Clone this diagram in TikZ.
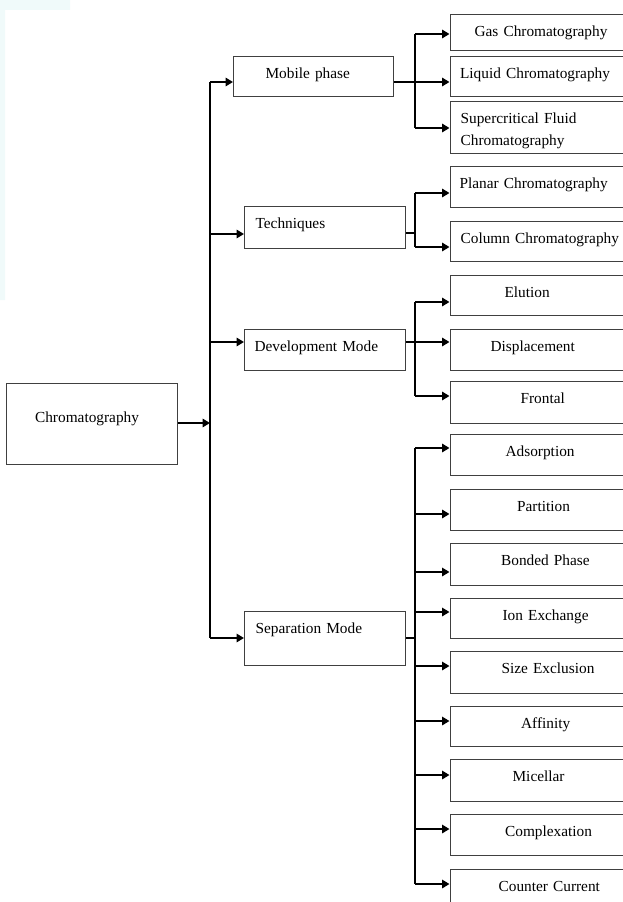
\documentclass[tikz,border=0pt]{standalone}
\usepackage{fontspec}
\setmainfont{Liberation Serif}
\usepackage{xcolor}
\usetikzlibrary{arrows.meta}
\newlength\unitpx
\setlength\unitpx{0.75pt}
\definecolor{boxline}{gray}{0.25}
\definecolor{wash}{RGB}{240,250,250}
\tikzset{
  box/.style={draw=boxline,line width=1.2\unitpx,anchor=north west,inner sep=0pt,
    align=left,text height=21.5\unitpx,font=\fontsize{11.5}{16.5}\selectfont},
  lbox/.style={box,text width=161\unitpx},
  rbox/.style={box,text width=200\unitpx},
  stub/.style={line width=2pt,-{Triangle[length=5.5pt,width=6.2pt]}},
  wire/.style={line width=0.9pt}
}

\begin{document}
\begin{tikzpicture}[x=0.75pt,y=-0.75pt]
\useasboundingbox(0,0)rectangle(622,902);
\fill[wash](0,0)rectangle(70,10) (0,10)rectangle(5,300);
% root and first level
\node[box,text width=171\unitpx,text height=39\unitpx,text depth=42\unitpx](chrom)at(5.5,383){\hspace*{29\unitpx}Chromatography};
\node[box,text width=160\unitpx,text depth=18.5\unitpx](mob)at(233,56){\hspace*{32\unitpx}Mobile phase};
\node[lbox,text depth=20.5\unitpx](tech)at(244,206){\hspace*{11\unitpx}Techniques};
\node[lbox,text depth=19.5\unitpx](dev)at(244,329){\hspace*{10\unitpx}Development Mode};
\node[lbox,text depth=32.5\unitpx](sep)at(244,611){\hspace*{11\unitpx}Separation Mode};
% mobile phase
\node[rbox,text depth=14.5\unitpx](gas)at(449.5,14){\hspace*{24.5\unitpx}Gas Chromatography};
\node[rbox,text depth=18.5\unitpx](liq)at(449.5,56){\hspace*{10\unitpx}Liquid Chromatography};
\node[rbox,text depth=30.5\unitpx](sup)at(449.5,101){\hspace*{10.5\unitpx}Supercritical Fluid\\\hspace*{10.5\unitpx}Chromatography};
% techniques
\node[rbox,text depth=19.5\unitpx](pla)at(449.5,166){\hspace*{9.5\unitpx}Planar Chromatography};
\node[rbox,text depth=18.5\unitpx](col)at(449.5,221){\hspace*{10.5\unitpx}Column Chromatography};
% development mode
\node[rbox,text depth=18.5\unitpx](elu)at(449.5,275){\hspace*{54.5\unitpx}Elution};
\node[rbox,text depth=19.5\unitpx](dis)at(449.5,329){\hspace*{40.5\unitpx}Displacement};
\node[rbox,text depth=20.5\unitpx](fro)at(449.5,381){\hspace*{70.5\unitpx}Frontal};
% separation mode
\node[rbox,text depth=19.5\unitpx](ads)at(449.5,434){\hspace*{55.5\unitpx}Adsorption};
\node[rbox,text depth=19.5\unitpx](par)at(449.5,489){\hspace*{67\unitpx}Partition};
\node[rbox,text depth=20.5\unitpx](bon)at(449.5,543){\hspace*{51\unitpx}Bonded Phase};
\node[rbox,text depth=18.5\unitpx](ion)at(449.5,598){\hspace*{52.5\unitpx}Ion Exchange};
\node[rbox,text depth=20.5\unitpx](siz)at(449.5,651){\hspace*{51.5\unitpx}Size Exclusion};
\node[rbox,text depth=18.5\unitpx](aff)at(449.5,706){\hspace*{71\unitpx}Affinity};
\node[rbox,text depth=20.5\unitpx](mic)at(449.5,759){\hspace*{62.5\unitpx}Micellar};
\node[rbox,text depth=19.5\unitpx](com)at(449.5,814){\hspace*{55\unitpx}Complexation};
\node[rbox,text depth=18.5\unitpx](cou)at(449.5,869){\hspace*{48.5\unitpx}Counter Current};
% trunk
\coordinate(t0)at(210,423);
\coordinate(t1)at(210,82);
\coordinate(t2)at(210,234);
\coordinate(t3)at(210,342);
\coordinate(t4)at(210,638);
\draw[stub](t0-|chrom.east)--(t0);
\draw[wire](t1)--(t4);
\draw[stub](t1)--(t1-|mob.west);
\draw[stub](t2)--(t2-|tech.west);
\draw[stub](t3)--(t3-|dev.west);
\draw[stub](t4)--(t4-|sep.west);
% mobile phase branch
\coordinate(m1)at(415,34);
\coordinate(m2)at(415,82);
\coordinate(m3)at(415,128);
\draw[wire](m1)--(m3);
\draw[stub](m1)--(m1-|gas.west);
\draw[stub](m2-|mob.east)--(m2-|liq.west);
\draw[stub](m3)--(m3-|sup.west);
% techniques branch
\coordinate(p0)at(415,233);
\coordinate(p1)at(415,193);
\coordinate(p2)at(415,247);
\draw[wire](p0-|tech.east)--(p0);
\draw[wire](p1)--(p2);
\draw[stub](p1)--(p1-|pla.west);
\draw[stub](p2)--(p2-|col.west);
% development mode branch
\coordinate(d1)at(415,302);
\coordinate(d2)at(415,342);
\coordinate(d3)at(415,396);
\draw[wire](d1)--(d3);
\draw[stub](d1)--(d1-|elu.west);
\draw[stub](d2-|dev.east)--(d2-|dis.west);
\draw[stub](d3)--(d3-|fro.west);
% separation mode branch
\coordinate(s0)at(415,638);
\coordinate(s1)at(415,448);
\coordinate(s2)at(415,514);
\coordinate(s3)at(415,572);
\coordinate(s4)at(415,612);
\coordinate(s5)at(415,666);
\coordinate(s6)at(415,721);
\coordinate(s7)at(415,775);
\coordinate(s8)at(415,829);
\coordinate(s9)at(415,884);
\draw[wire](s0-|sep.east)--(s0);
\draw[wire](s1)--(s9);
\draw[stub](s1)--(s1-|ads.west);
\draw[stub](s2)--(s2-|par.west);
\draw[stub](s3)--(s3-|bon.west);
\draw[stub](s4)--(s4-|ion.west);
\draw[stub](s5)--(s5-|siz.west);
\draw[stub](s6)--(s6-|aff.west);
\draw[stub](s7)--(s7-|mic.west);
\draw[stub](s8)--(s8-|com.west);
\draw[stub](s9)--(s9-|cou.west);
\end{tikzpicture}
\end{document}
